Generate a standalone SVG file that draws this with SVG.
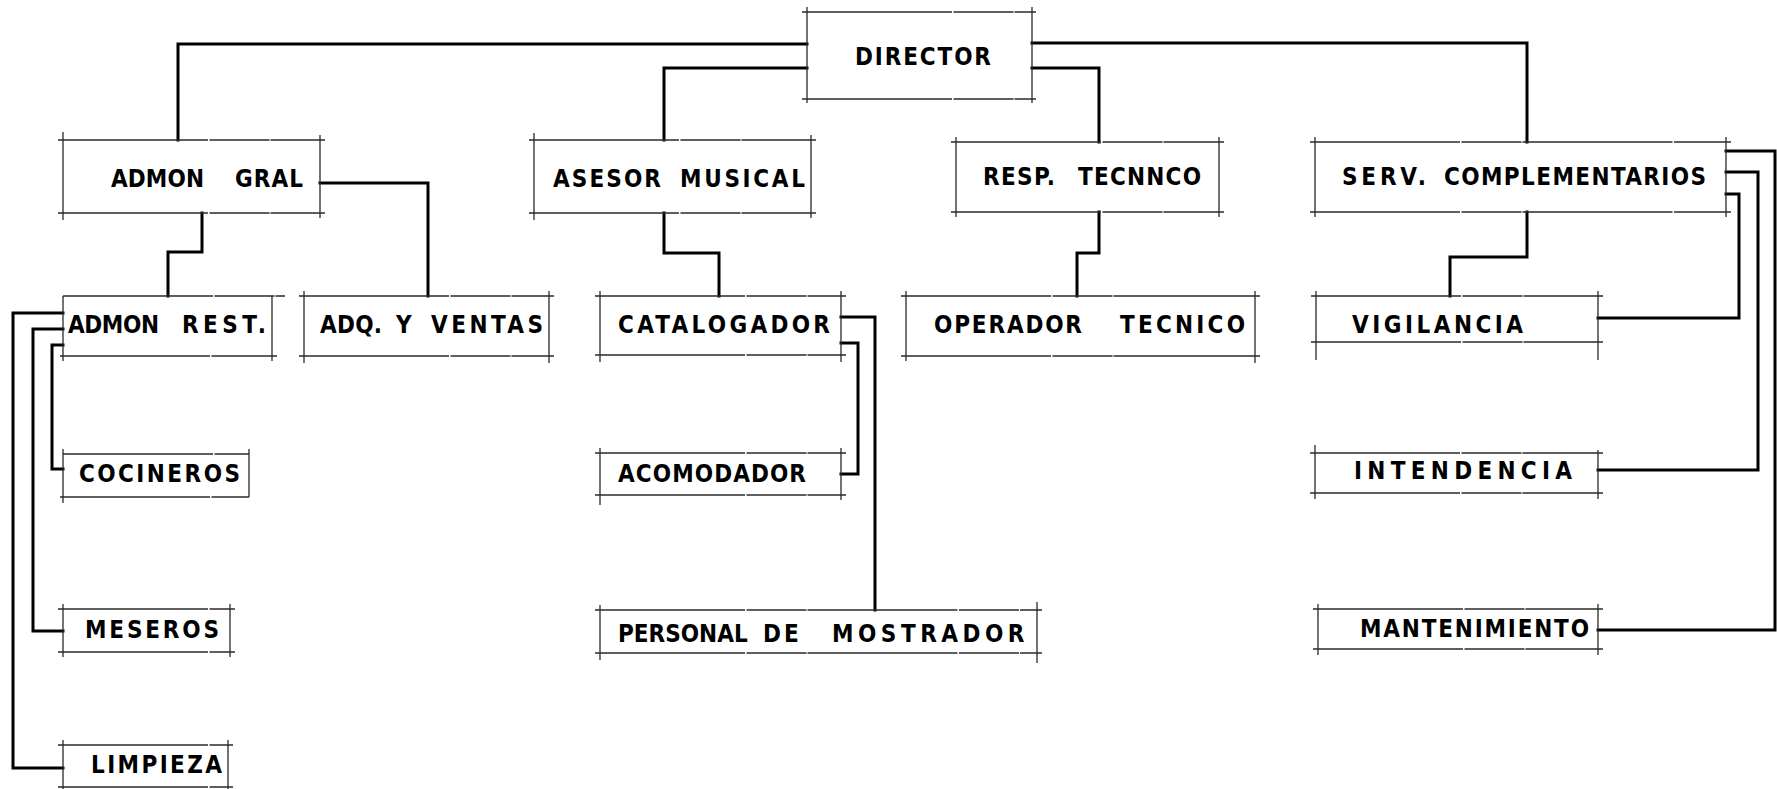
<svg xmlns="http://www.w3.org/2000/svg" width="1777" height="789" viewBox="0 0 1777 789">
<style>
  .box{fill:none;stroke:#2a2a2a;stroke-width:1.3;stroke-dasharray:150 1.5 60 1}
  .conn path{fill:none;stroke:#000;stroke-width:3;stroke-linejoin:miter;stroke-linecap:square}
  text{font-family:"DejaVu Sans Condensed","Liberation Sans",sans-serif;font-weight:bold;font-size:24px;fill:#000}
</style>
<rect width="1777" height="789" fill="#fff"/>
<g class="conn" id="connectors">
  <path d="M807,44H178V140"/>
  <path d="M807,68H664V140"/>
  <path d="M1032,43H1527V142"/>
  <path d="M1032,68H1099V142"/>
  <path d="M202,213V252H168V296"/>
  <path d="M320,183H428V296"/>
  <path d="M664,213V253H719V296"/>
  <path d="M1099,212V253H1077V296"/>
  <path d="M1527,212V257H1450V296"/>
  <path d="M1726,194H1739V318H1598"/>
  <path d="M1726,172H1758V470H1598"/>
  <path d="M1726,151H1775V630H1598"/>
  <path d="M63,345H52V469H63"/>
  <path d="M63,329H33V631H63"/>
  <path d="M63,313H13V768H63"/>
  <path d="M841,343H858V474H841"/>
  <path d="M841,317H875V610"/>
</g>
<g id="director">
  <path class="box" d="M802,12H1036M802,99H1036M807,7V103M1032,7V103"/>
  <text y="65"><tspan x="855" textLength="136" lengthAdjust="spacing">DIRECTOR</tspan></text>
</g>
<g id="admon-gral">
  <path class="box" d="M58,140H325M58,213H325M63,132V220M320,135V218"/>
  <text y="187"><tspan x="111" textLength="93" lengthAdjust="spacing">ADMON</tspan> <tspan x="235" textLength="68" lengthAdjust="spacing">GRAL</tspan></text>
</g>
<g id="asesor-musical">
  <path class="box" d="M529,140H816M529,213H816M534,133V220M811,135V218"/>
  <text y="187"><tspan x="553" textLength="108" lengthAdjust="spacing">ASESOR</tspan> <tspan x="680" textLength="125" lengthAdjust="spacing">MUSICAL</tspan></text>
</g>
<g id="resp-tecnico">
  <path class="box" d="M951,142H1224M951,212H1224M956,137V217M1219,137V217"/>
  <text y="185"><tspan x="983" textLength="72" lengthAdjust="spacing">RESP.</tspan> <tspan x="1078" textLength="123" lengthAdjust="spacing">TECNNCO</tspan></text>
</g>
<g id="serv-complementarios">
  <path class="box" d="M1310,142H1731M1310,212H1731M1315,137V217M1726,137V217"/>
  <text y="185"><tspan x="1342" textLength="84" lengthAdjust="spacing">SERV.</tspan> <tspan x="1444" textLength="262" lengthAdjust="spacing">COMPLEMENTARIOS</tspan></text>
</g>
<g id="admon-rest">
  <path class="box" d="M63,296H285M60,356H277M63,296V361M272,296V361"/>
  <text y="333"><tspan x="68" textLength="91" lengthAdjust="spacing">ADMON</tspan> <tspan x="182" textLength="84" lengthAdjust="spacing">REST.</tspan></text>
</g>
<g id="adq-ventas">
  <path class="box" d="M299,296H554M299,356H554M304,291V363M549,291V363"/>
  <text y="333"><tspan x="320" textLength="62" lengthAdjust="spacing">ADQ.</tspan> <tspan x="396" textLength="20" lengthAdjust="spacing">Y</tspan> <tspan x="431" textLength="112" lengthAdjust="spacing">VENTAS</tspan></text>
</g>
<g id="catalogador">
  <path class="box" d="M595,296H846M595,355H846M600,291V362M841,291V362"/>
  <text y="333"><tspan x="618" textLength="212" lengthAdjust="spacing">CATALOGADOR</tspan></text>
</g>
<g id="operador-tecnico">
  <path class="box" d="M901,296H1260M901,356H1260M906,291V361M1255,291V363"/>
  <text y="333"><tspan x="934" textLength="148" lengthAdjust="spacing">OPERADOR</tspan> <tspan x="1120" textLength="125" lengthAdjust="spacing">TECNICO</tspan></text>
</g>
<g id="vigilancia">
  <path class="box" d="M1311,296H1603M1311,342H1603M1316,291V360M1598,291V360"/>
  <text y="333"><tspan x="1352" textLength="171" lengthAdjust="spacing">VIGILANCIA</tspan></text>
</g>
<g id="cocineros">
  <path class="box" d="M63,454H249M60,497H249M63,449V503M249,449V497"/>
  <text y="482"><tspan x="79" textLength="161" lengthAdjust="spacing">COCINEROS</tspan></text>
</g>
<g id="acomodador">
  <path class="box" d="M595,453H846M595,495H846M600,448V505M841,448V500"/>
  <text y="482"><tspan x="618" textLength="188" lengthAdjust="spacing">ACOMODADOR</tspan></text>
</g>
<g id="intendencia">
  <path class="box" d="M1310,453H1603M1310,493H1603M1315,445V499M1598,450V499"/>
  <text y="479"><tspan x="1354" textLength="218" lengthAdjust="spacing">INTENDENCIA</tspan></text>
</g>
<g id="meseros">
  <path class="box" d="M58,609H235M58,652H235M63,604V657M230,604V657"/>
  <text y="638"><tspan x="85" textLength="134" lengthAdjust="spacing">MESEROS</tspan></text>
</g>
<g id="personal-mostrador">
  <path class="box" d="M595,610H1042M595,653H1042M600,605V660M1037,602V663"/>
  <text y="642"><tspan x="618">PERSONAL</tspan> <tspan x="763" style="letter-spacing:3px">DE</tspan> <tspan x="832" style="letter-spacing:4.5px">MOSTRADOR</tspan></text>
</g>
<g id="mantenimiento">
  <path class="box" d="M1313,609H1603M1313,649H1603M1318,604V655M1598,604V655"/>
  <text y="637"><tspan x="1360" textLength="229" lengthAdjust="spacing">MANTENIMIENTO</tspan></text>
</g>
<g id="limpieza">
  <path class="box" d="M58,745H233M58,787H233M63,740V789M228,740V789"/>
  <text y="773"><tspan x="91" textLength="131" lengthAdjust="spacing">LIMPIEZA</tspan></text>
</g>
</svg>
